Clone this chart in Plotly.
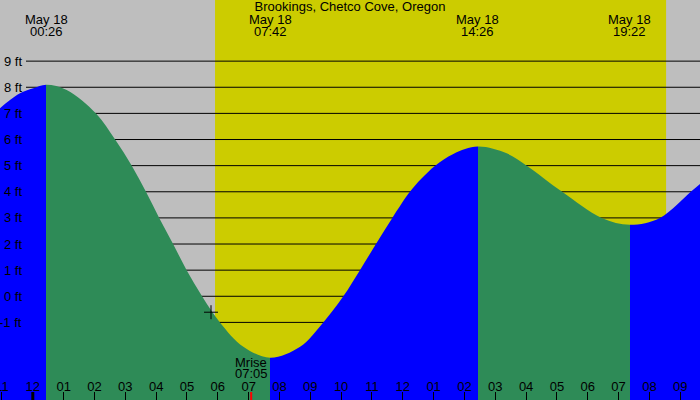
import plotly.graph_objects as go

# tide curve: hours after midnight May 18, height in ft
hours = [-1.064, -0.74, -0.415, 0.016, 0.433, 1.10, 2.05, 2.67, 3.21, 3.67,
         4.10, 4.55, 4.99, 5.49, 6.07, 6.83, 7.70, 8.67, 9.42, 10.07,
         10.61, 11.13, 11.66, 12.23, 12.60, 13.05, 13.64, 14.433, 15.37, 16.02,
         17.17, 18.45, 19.367, 20.34, 21.34, 21.64]
heights = [7.2, 7.51, 7.77, 7.96, 8.1, 7.9, 7.0, 6.0, 5.0, 4.0,
           3.0, 2.0, 1.0, 0.0, -1.0, -1.93, -2.35, -1.93, -1.0, 0.0,
           1.0, 2.0, 3.0, 4.0, 4.5, 5.0, 5.45, 5.73, 5.47, 5.0,
           4.0, 3.0, 2.74, 3.0, 4.0, 4.3]

# high / low tide events
event_hours = [0.433, 7.70, 14.433, 19.367]
event_times = ["00:26", "07:42", "14:26", "19:22"]
event_date = "May 18"

sunrise, sunset = 5.91, 20.54
moonrise = 7.083
moonrise_time = "07:05"
now_hour, now_height = 5.78, -0.61

ft_levels = list(range(-1, 10))
hour_ticks = list(range(-1, 22))
hour_labels = ["11", "12", "01", "02", "03", "04", "05", "06", "07", "08", "09", "10",
               "11", "12", "01", "02", "03", "04", "05", "06", "07", "08", "09"]

x_range = [-1.064, 21.64]
y_range = [-3.97, 11.34]

GRAY = "#bebebe"
YELLOW = "#cccc00"
BLUE = "#0000ff"
GREEN = "#2e8b57"
FONT = "Liberation Sans"

# blue while rising, green while falling
span = hours[-1] - hours[0]
cs = [[0, BLUE]]
cur = BLUE
for t in event_hours:
    f = (t - hours[0]) / span
    nxt = GREEN if cur == BLUE else BLUE
    cs += [[f, cur], [f, nxt]]
    cur = nxt
cs.append([1, cur])

fig = go.Figure()
fig.add_trace(go.Scatter(x=[hours[0], hours[-1]], y=[y_range[0] - 1] * 2, mode="lines",
                         line=dict(width=0), hoverinfo="skip", showlegend=False))
fig.add_trace(go.Scatter(
    x=hours, y=heights, mode="lines",
    line=dict(width=0, shape="spline", color=BLUE),
    fill="tonexty", fillcolor=BLUE,
    fillgradient=dict(type="horizontal", colorscale=cs,
                      start=hours[0], stop=hours[-1]),
    hoverinfo="skip", showlegend=False))
fig.add_trace(go.Scatter(
    x=[now_hour], y=[now_height], mode="markers",
    marker=dict(symbol="cross-thin", size=10, line=dict(width=1, color="black")),
    hoverinfo="skip", showlegend=False))

shapes = [dict(type="rect", xref="x", yref="paper", x0=sunrise, x1=sunset, y0=0, y1=1,
               fillcolor=YELLOW, line=dict(width=0), layer="below")]
for lv in ft_levels:
    shapes.append(dict(type="line", xref="paper", yref="y", x0=26 / 700, x1=1, y0=lv, y1=lv,
                       line=dict(color="black", width=1), layer="below"))
shapes.append(dict(type="line", xref="x", yref="paper", x0=0, x1=0, y0=0, y1=0.02,
                   line=dict(color="black", width=3)))
shapes.append(dict(type="line", xref="x", yref="paper", x0=moonrise, x1=moonrise, y0=0, y1=0.02,
                   line=dict(color="red", width=2)))

annotations = []
for lv in ft_levels:
    annotations.append(dict(x=24 / 700, xref="paper", y=lv, yref="y", text=f"{lv} ft",
                            xanchor="right", yanchor="middle", showarrow=False,
                            font=dict(family=FONT, size=13, color="black")))
for t, lab in zip(event_hours, event_times):
    annotations.append(dict(x=t, xref="x", y=1 - 19.8 / 400, yref="paper", text=event_date,
                            xanchor="center", yanchor="middle", showarrow=False,
                            font=dict(family=FONT, size=13, color="black")))
    annotations.append(dict(x=t, xref="x", y=1 - 31.5 / 400, yref="paper", text=lab,
                            xanchor="center", yanchor="middle", showarrow=False,
                            font=dict(family=FONT, size=13, color="black")))
annotations.append(dict(x=moonrise, xref="x", y=1 - 362.2 / 400, yref="paper", text="Mrise",
                        xanchor="center", yanchor="middle", showarrow=False,
                        font=dict(family=FONT, size=13, color="black")))
annotations.append(dict(x=moonrise, xref="x", y=1 - 373.2 / 400, yref="paper", text=moonrise_time,
                        xanchor="center", yanchor="middle", showarrow=False,
                        font=dict(family=FONT, size=13, color="black")))

fig.update_layout(
    width=700, height=400,
    margin=dict(l=0, r=0, t=0, b=0, autoexpand=False),
    paper_bgcolor=GRAY, plot_bgcolor=GRAY,
    title=dict(text="Brookings, Chetco Cove, Oregon", x=0.5, xanchor="center",
               y=1 - 6 / 400, yanchor="middle",
               font=dict(family=FONT, size=13, color="black")),
    xaxis=dict(range=x_range, tickvals=hour_ticks, ticktext=hour_labels,
               ticks="inside", ticklen=8, tickwidth=1, tickcolor="black",
               ticklabelposition="inside", ticklabeloverflow="allow",
               ticklabelstandoff=-2,
               tickfont=dict(family=FONT, size=13, color="black"),
               showgrid=False, zeroline=False, showline=False, fixedrange=True),
    yaxis=dict(range=y_range, showticklabels=False, ticks="",
               showgrid=False, zeroline=False, showline=False, fixedrange=True),
    shapes=shapes, annotations=annotations,
)

# drop the page's default body margin so the chart sits at the window corner
fig.write_html("out.html", config={"staticPlot": True},
               post_script="document.body.style.margin='0';"
                           "document.body.style.overflow='hidden';")
